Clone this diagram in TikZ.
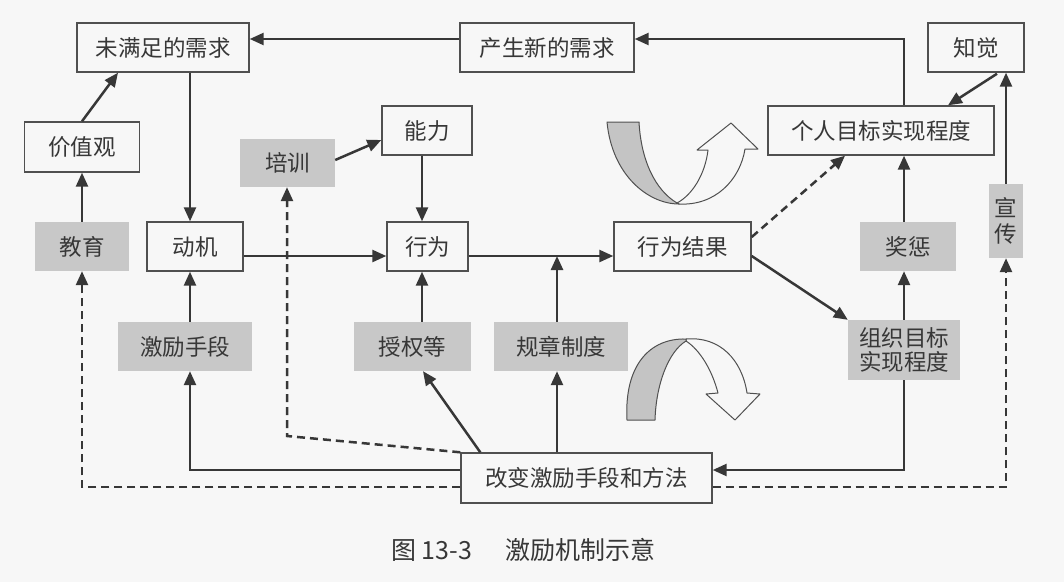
\documentclass[tikz,border=0pt]{standalone}
\usepackage{fontspec}
\setmainfont{Noto Sans CJK SC}
\usetikzlibrary{arrows.meta}
\definecolor{bg}{RGB}{247,247,247}
\definecolor{ink}{RGB}{55,55,55}
\definecolor{boxfill}{RGB}{200,200,200}
\definecolor{edge}{RGB}{80,80,80}
\definecolor{bandfill}{RGB}{196,196,196}
\begin{document}
\begin{tikzpicture}[x=1pt,y=-1pt,
  every node/.style={font=\fontsize{22.5}{27}\selectfont, text=ink, inner sep=0pt},
  wbox/.style={draw=edge, line width=1.4pt, fill=bg, minimum height=49pt},
  gbox/.style={fill=boxfill, minimum height=49pt},
  arr/.style={draw=ink, line width=2.5pt, -{Triangle[length=14pt,width=12pt]}},
  darr/.style={arr, dash pattern=on 8pt off 5pt},
  band/.style={draw=edge, line width=1pt, line join=round}
]
\fill[bg] (0,0) rectangle (1064,582);
\useasboundingbox (0,0) rectangle (1064,582);

% boxes
\node[wbox, minimum width=172pt] (unmet) at (163,47.5) {未满足的需求};
\node[wbox, minimum width=174pt] (newneed) at (547,47.5) {产生新的需求};
\node[wbox, minimum width=96pt] (zhijue) at (976,47.5) {知觉};
\node[wbox, minimum width=115pt, minimum height=50pt] (jiazhi) at (82,147) {价值观};
\node[gbox, minimum width=95pt, minimum height=48pt] (peixun) at (287.5,163) {培训};
\node[wbox, minimum width=90pt] (nengli) at (427,130.5) {能力};
\node[wbox, minimum width=226pt] (geren) at (881,130.5) {个人目标实现程度};
\node[gbox, minimum width=94pt] (jiaoyu) at (82,246.5) {教育};
\node[wbox, minimum width=96pt] (dongji) at (195,246.5) {动机};
\node[wbox, minimum width=81pt] (xingwei) at (427.5,246.5) {行为};
\node[wbox, minimum width=137pt] (jieguo) at (682.5,246.5) {行为结果};
\node[gbox, minimum width=34pt, minimum height=74pt, align=center, font=\fontsize{22.5}{26}\selectfont] (xuanchuan) at (1006,221) {宣\\传};
\node[gbox, minimum width=96pt] (jiangcheng) at (908,246.5) {奖惩};
\node[gbox, minimum width=134pt] (jili) at (185,346.5) {激励手段};
\node[gbox, minimum width=117pt] (shouquan) at (412.5,346.5) {授权等};
\node[gbox, minimum width=134pt] (guizhang) at (561,346.5) {规章制度};
\node[gbox, minimum width=112pt, minimum height=60pt, align=center, font=\fontsize{22.5}{24.5}\selectfont] (zuzhi) at (904,350) {组织目标\\实现程度};
\node[wbox, minimum width=251pt, minimum height=50pt] (gaibian) at (586.5,478) {改变激励手段和方法};
\node[font=\fontsize{25}{30}\selectfont] (caption) at (523.5,550) {图 13-3\hspace{34pt}激励机制示意};

% helper coordinates
\coordinate (x190) at (190,0);
\coordinate (x422) at (422,0);
\coordinate (x557) at (557,0);
\coordinate (x904) at (904,0);
\coordinate (j1) at (557,256);
\coordinate (p1) at (287,436);

% connectors
\draw[arr] ([yshift=8.5pt]newneed.west) -- ([yshift=8.5pt]unmet.east);
\draw[arr] (geren.north -| x904) |- ([yshift=8.5pt]newneed.east);
\draw[arr] (unmet.south -| x190) -- (dongji.north -| x190);
\draw[arr] (jiazhi.north) -- ([xshift=-45pt]unmet.south);
\draw[arr] (jiaoyu.north) -- (jiazhi.south);
\draw[arr] ([yshift=3pt]peixun.east) -- ([yshift=-9.5pt]nengli.west);
\draw[arr] (nengli.south -| x422) -- (xingwei.north -| x422);
\draw[arr] ([yshift=-9.5pt]dongji.east) -- ([yshift=-9.5pt]xingwei.west);
\draw[arr] ([yshift=-9.5pt]xingwei.east) -- ([yshift=-9.5pt]jieguo.west);
\draw[arr] (guizhang.north -| j1) -- (j1);
\draw[arr] (shouquan.north -| x422) -- (xingwei.south -| x422);
\draw[arr] (jili.north -| x190) -- (dongji.south -| x190);
\draw[darr] ([yshift=9.5pt]jieguo.east) -- ([xshift=-36pt]geren.south);
\draw[arr] ([yshift=-9.5pt]jieguo.east) -- (zuzhi.north west);
\draw[arr] (jiangcheng.north -| x904) -- (geren.south -| x904);
\draw[arr] (zuzhi.north -| x904) -- (jiangcheng.south -| x904);
\draw[arr] (zuzhi.south -| x904) |- ([yshift=8pt]gaibian.east);
\draw[arr] ([yshift=8pt]gaibian.west) -| (jili.south -| x190);
\draw[arr] ([xshift=20pt]gaibian.north west) -- ([xshift=10.5pt]shouquan.south);
\draw[arr] (gaibian.north -| x557) -- (guizhang.south -| x557);
\draw[darr] (gaibian.north west) -- (p1) -- (peixun.south -| p1);
\draw[darr] ([yshift=-9pt]gaibian.west) -| (jiaoyu.south);
\draw[darr] ([yshift=-9pt]gaibian.east) -| (xuanchuan.south);
\draw[arr] (xuanchuan.north) -- (zhijue.south -| xuanchuan.north);
\draw[arr] ([xshift=21pt,yshift=-1pt]zhijue.south) -- ([xshift=67pt]geren.north);

% upper curved arrow
\draw[band, fill=bg] (679,204) .. controls (715,206) and (740,180) .. (745,149)
  -- (758,149) -- (731,123) -- (697,150) -- (708,150)
  .. controls (705,175) and (692,195) .. (677,203) -- cycle;
\draw[band, fill=bandfill] (607,122) .. controls (612,175) and (648,204) .. (679,204)
  -- (677,203) .. controls (655,190) and (641,160) .. (639,122) -- cycle;

% lower curved arrow
\draw[band, fill=bg] (686,339) .. controls (720,336) and (742,360) .. (747,393)
  -- (760,394) -- (735,420) -- (706,394) -- (718,393)
  .. controls (712,370) and (700,350) .. (686,341) -- cycle;
\draw[band, fill=bandfill] (627,420) .. controls (624,365) and (650,338) .. (686,339)
  -- (686,341) .. controls (668,352) and (656,385) .. (655,420) -- cycle;
\end{tikzpicture}
\end{document}
